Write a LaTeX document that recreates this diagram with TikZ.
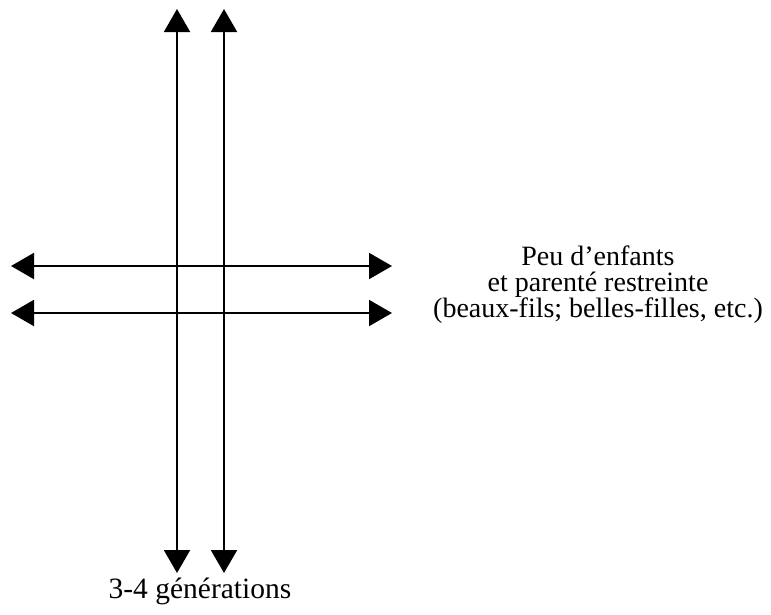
\documentclass[tikz,border=0pt]{standalone}
\usepackage{fontspec}
\setmainfont{Liberation Serif}
\usetikzlibrary{arrows.meta}
\tikzset{
  dbl/.style={line width=2pt, {Triangle[length=23pt,width=26pt]}-{Triangle[length=23pt,width=26pt]}},
  lbl/.style={align=center, inner sep=0pt}
}
\begin{document}
\begin{tikzpicture}[x=1pt,y=-1pt]
\useasboundingbox (0,0) rectangle (771,614);
\coordinate (v1t) at (177,9);
\coordinate (v1b) at (177,573);
\coordinate (v2t) at (224,9);
\coordinate (v2b) at (224,573);
\coordinate (h1l) at (11,266);
\coordinate (h1r) at (392,266);
\coordinate (h2l) at (11,313);
\coordinate (h2r) at (392,313);
\draw[dbl] (v1b) -- (v1t);
\draw[dbl] (v2b) -- (v2t);
\draw[dbl] (h1l) -- (h1r);
\draw[dbl] (h2l) -- (h2r);
\node[lbl, font=\fontsize{28}{26}\selectfont, anchor=base] (peu) at (598,317) {Peu d’enfants\\et parenté restreinte\\(beaux-fils; belles-filles, etc.)};
\node[lbl, font=\fontsize{29.5}{30}\selectfont, anchor=base] (gen) at (200,598) {3-4 générations};
\end{tikzpicture}
\end{document}
